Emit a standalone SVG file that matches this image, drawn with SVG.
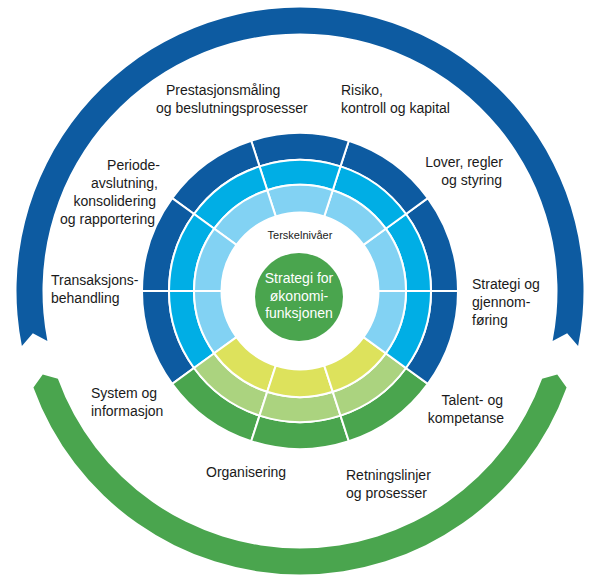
<svg xmlns="http://www.w3.org/2000/svg" width="595" height="586" viewBox="0 0 595 586">
<style>
.o{fill:#0D5BA1}.m{fill:#00AEE5}.i{fill:#82D2F3}
.og{fill:#4AA54E}.mg{fill:#ABD37F}.ig{fill:#DDE25C}
.seg path{stroke:#fff;stroke-width:2;stroke-linejoin:miter}
.lbl{font-family:"Liberation Sans",Arial,sans-serif;font-size:14px;fill:#1a1a1a}
.ctr{font-family:"Liberation Sans",Arial,sans-serif;font-size:14px;fill:#fff;text-anchor:middle}
</style>
<rect width="595" height="586" fill="#fff"/>
<g id="cycle">
<path id="arc-blue" class="o" d="M21.90,346.07 A283.5,283.5 0 1 1 578.10,346.07 L567.17,333.32 L552.60,341.01 A257.5,257.5 0 1 0 47.40,341.01 L32.83,333.32 Z"/>
<path id="arc-green" class="og" d="M33.43,387.50 A283.5,283.5 0 0 0 566.57,387.50 L557.26,374.59 L542.12,378.65 A257.5,257.5 0 0 1 57.88,378.65 L42.74,374.59 Z"/>
</g>
<g id="seg-0" class="seg">
<path class="o" d="M458,291 A158,158 0 0 0 427.83,198.13 L405.98,214 A131,131 0 0 1 431,291 Z"/>
<path class="m" d="M431,291 A131,131 0 0 0 405.98,214 L385.76,228.69 A106,106 0 0 1 406,291 Z"/>
<path class="i" d="M406,291 A106,106 0 0 0 385.76,228.69 L363.51,244.86 A78.5,78.5 0 0 1 378.5,291 Z"/>
</g>
<g id="seg-1" class="seg">
<path class="o" d="M427.83,198.13 A158,158 0 0 0 348.83,140.73 L340.48,166.41 A131,131 0 0 1 405.98,214 Z"/>
<path class="m" d="M405.98,214 A131,131 0 0 0 340.48,166.41 L332.76,190.19 A106,106 0 0 1 385.76,228.69 Z"/>
<path class="i" d="M385.76,228.69 A106,106 0 0 0 332.76,190.19 L324.26,216.34 A78.5,78.5 0 0 1 363.51,244.86 Z"/>
</g>
<g id="seg-2" class="seg">
<path class="o" d="M348.83,140.73 A158,158 0 0 0 251.17,140.73 L259.52,166.41 A131,131 0 0 1 340.48,166.41 Z"/>
<path class="m" d="M340.48,166.41 A131,131 0 0 0 259.52,166.41 L267.24,190.19 A106,106 0 0 1 332.76,190.19 Z"/>
<path class="i" d="M332.76,190.19 A106,106 0 0 0 267.24,190.19 L275.74,216.34 A78.5,78.5 0 0 1 324.26,216.34 Z"/>
</g>
<g id="seg-3" class="seg">
<path class="o" d="M251.17,140.73 A158,158 0 0 0 172.17,198.13 L194.02,214 A131,131 0 0 1 259.52,166.41 Z"/>
<path class="m" d="M259.52,166.41 A131,131 0 0 0 194.02,214 L214.24,228.69 A106,106 0 0 1 267.24,190.19 Z"/>
<path class="i" d="M267.24,190.19 A106,106 0 0 0 214.24,228.69 L236.49,244.86 A78.5,78.5 0 0 1 275.74,216.34 Z"/>
</g>
<g id="seg-4" class="seg">
<path class="o" d="M172.17,198.13 A158,158 0 0 0 142,291 L169,291 A131,131 0 0 1 194.02,214 Z"/>
<path class="m" d="M194.02,214 A131,131 0 0 0 169,291 L194,291 A106,106 0 0 1 214.24,228.69 Z"/>
<path class="i" d="M214.24,228.69 A106,106 0 0 0 194,291 L221.5,291 A78.5,78.5 0 0 1 236.49,244.86 Z"/>
</g>
<g id="seg-5" class="seg">
<path class="o" d="M142,291 A158,158 0 0 0 172.17,383.87 L194.02,368 A131,131 0 0 1 169,291 Z"/>
<path class="m" d="M169,291 A131,131 0 0 0 194.02,368 L214.24,353.31 A106,106 0 0 1 194,291 Z"/>
<path class="i" d="M194,291 A106,106 0 0 0 214.24,353.31 L236.49,337.14 A78.5,78.5 0 0 1 221.5,291 Z"/>
</g>
<g id="seg-6" class="seg">
<path class="og" d="M172.17,383.87 A158,158 0 0 0 251.17,441.27 L259.52,415.59 A131,131 0 0 1 194.02,368 Z"/>
<path class="mg" d="M194.02,368 A131,131 0 0 0 259.52,415.59 L267.24,391.81 A106,106 0 0 1 214.24,353.31 Z"/>
<path class="ig" d="M214.24,353.31 A106,106 0 0 0 267.24,391.81 L275.74,365.66 A78.5,78.5 0 0 1 236.49,337.14 Z"/>
</g>
<g id="seg-7" class="seg">
<path class="og" d="M251.17,441.27 A158,158 0 0 0 348.83,441.27 L340.48,415.59 A131,131 0 0 1 259.52,415.59 Z"/>
<path class="mg" d="M259.52,415.59 A131,131 0 0 0 340.48,415.59 L332.76,391.81 A106,106 0 0 1 267.24,391.81 Z"/>
<path class="ig" d="M267.24,391.81 A106,106 0 0 0 332.76,391.81 L324.26,365.66 A78.5,78.5 0 0 1 275.74,365.66 Z"/>
</g>
<g id="seg-8" class="seg">
<path class="og" d="M348.83,441.27 A158,158 0 0 0 427.83,383.87 L405.98,368 A131,131 0 0 1 340.48,415.59 Z"/>
<path class="mg" d="M340.48,415.59 A131,131 0 0 0 405.98,368 L385.76,353.31 A106,106 0 0 1 332.76,391.81 Z"/>
<path class="ig" d="M332.76,391.81 A106,106 0 0 0 385.76,353.31 L363.51,337.14 A78.5,78.5 0 0 1 324.26,365.66 Z"/>
</g>
<g id="seg-9" class="seg">
<path class="o" d="M427.83,383.87 A158,158 0 0 0 458,291 L431,291 A131,131 0 0 1 405.98,368 Z"/>
<path class="m" d="M405.98,368 A131,131 0 0 0 431,291 L406,291 A106,106 0 0 1 385.76,353.31 Z"/>
<path class="i" d="M385.76,353.31 A106,106 0 0 0 406,291 L378.5,291 A78.5,78.5 0 0 1 363.51,337.14 Z"/>
</g>
<g id="center">
<text x="300" y="239" text-anchor="middle" font-family="Liberation Sans, Arial, sans-serif" font-size="11" fill="#1a1a1a">Terskelnivåer</text>
<circle cx="299" cy="297" r="44" fill="#4AA54E"/>
<text class="ctr" x="299" y="283">Strategi for</text>
<text class="ctr" x="299" y="301">økonomi-</text>
<text class="ctr" x="299" y="318">funksjonen</text>
</g>
<g id="label-prestasjon" class="lbl"><text x="166" y="95">Prestasjonsmåling</text><text x="156" y="113">og beslutningsprosesser</text></g>
<g id="label-risiko" class="lbl"><text x="341" y="95">Risiko,</text><text x="341" y="113">kontroll og kapital</text></g>
<g id="label-lover" class="lbl" text-anchor="end"><text x="503" y="167">Lover, regler</text><text x="502" y="185">og styring</text></g>
<g id="label-strategi" class="lbl"><text x="472" y="289">Strategi og</text><text x="472" y="307">gjennom-</text><text x="472" y="325">føring</text></g>
<g id="label-talent" class="lbl" text-anchor="end"><text x="503" y="405">Talent- og</text><text x="504" y="423">kompetanse</text></g>
<g id="label-retningslinjer" class="lbl"><text x="346" y="480">Retningslinjer</text><text x="346" y="498">og prosesser</text></g>
<g id="label-organisering" class="lbl"><text x="206" y="477">Organisering</text></g>
<g id="label-system" class="lbl"><text x="91" y="398">System og</text><text x="91" y="416">informasjon</text></g>
<g id="label-transaksjon" class="lbl"><text x="51" y="285">Transaksjons-</text><text x="51" y="303">behandling</text></g>
<g id="label-periode" class="lbl" text-anchor="end"><text x="160" y="170">Periode-</text><text x="158" y="188">avslutning,</text><text x="156" y="206">konsolidering</text><text x="155" y="224">og rapportering</text></g>
</svg>
